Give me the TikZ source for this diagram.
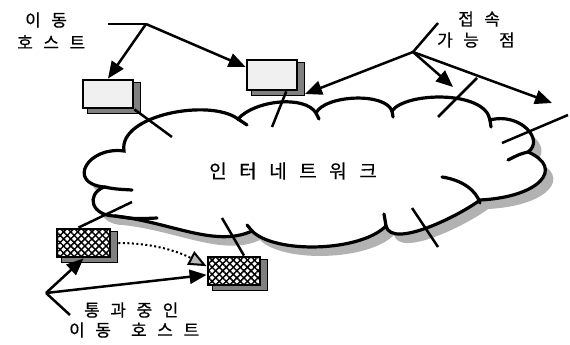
\documentclass[tikz,border=0pt]{standalone}
\usepackage{fontspec}
\newfontfamily\kr[LetterSpace=62,WordSpace=1.4,FakeBold=0.5]{Noto Sans CJK KR}
\newfontfamily\krbig[LetterSpace=66,FakeBold=0.5]{Noto Sans CJK KR}
\usetikzlibrary{arrows.meta,backgrounds,patterns.meta}
\newcommand\cloudoutline{(124,151) .. controls (118,115) and (210,98) .. (238,119)
 .. controls (255,100) and (305,95) .. (316,113)
 .. controls (325,95) and (385,92) .. (392,111)
 .. controls (405,92) and (485,90) .. (490,120)
 .. controls (520,112) and (545,140) .. (528,152)
 .. controls (565,168) and (540,197) .. (480,200)
 .. controls (462,214) and (392,250) .. (386,226)
 .. controls (360,252) and (275,254) .. (252,231)
 .. controls (215,248) and (170,222) .. (115,216)
 .. controls (92,216) and (85,195) .. (104,187)
 .. controls (66,183) and (88,146) .. (124,151) -- cycle}
\begin{document}
\begin{tikzpicture}[x=1pt,y=-1pt,
  lbl/.style={font=\kr\fontsize{17}{21}\selectfont, anchor=west, inner sep=0pt},
  arr/.style={line width=2.5pt, -{Triangle[length=17pt,width=14pt]}},
  conn/.style={line width=2.5pt},
  cloudline/.style={line width=3.2pt, line cap=round},
  hostbase/.style={draw, line width=2.8pt, minimum width=50pt, minimum height=28pt, inner sep=0pt},
  lighthost/.style={hostbase, fill=gray!12},
  transithost/.style={hostbase, fill=white,
    postaction={pattern={Lines[angle=45,distance=5pt,line width=1.5pt]}},
    postaction={pattern={Lines[angle=-45,distance=5pt,line width=1.5pt]}}},
  boxshadow/.style={fill=black!50, draw=black, line width=0.8pt},
]
\useasboundingbox (0,0) rectangle (570,345);
% cloud shadow and cloud
\fill[gray!60, shift={(8,9)}] \cloudoutline;
\draw[cloudline, fill=white] \cloudoutline;
% cloud tails
\draw[cloudline] (238,119) -- (247,125);
\draw[cloudline] (316,113) -- (319,119);
\draw[cloudline] (392,111) -- (393,117);
\draw[cloudline] (490,120) -- (491,127);
\draw[cloudline] (528,152) .. controls (520,154) .. (508,160);
\draw[cloudline] (386,226) -- (384,214);
\draw[cloudline] (252,231) -- (247,225);
\draw[cloudline] (115,216) .. controls (135,219) .. (157,218);
\draw[cloudline] (104,187) .. controls (115,189) .. (132,190);
\draw[cloudline] (442,177) .. controls (462,180) and (476,190) .. (480,203);
% network label
\node[font=\krbig\fontsize{19}{22}\selectfont, anchor=west, inner sep=0pt] (net) at (209,171) {인터네트워크};
% hosts
\node[lighthost] (h1) at (108,94) {};
\node[lighthost, minimum height=30pt] (h2) at (272,75) {};
\node[transithost, minimum width=53pt] (h3) at (83.5,243) {};
\node[transithost, minimum width=52pt] (h4) at (234,271) {};
\begin{scope}[on background layer]
  \foreach \h in {h1,h2,h3,h4}
    \path[boxshadow] ([shift={(6,4)}]\h.north west) rectangle ([shift={(6,4)}]\h.south east);
\end{scope}
% coordinates
\coordinate (mhs) at (108,24); \coordinate (mhp) at (146,24);
\coordinate (aps) at (438,23); \coordinate (app) at (413,52);
\coordinate (ap1) at (305,94); \coordinate (ap2) at (453,87); \coordinate (ap3) at (552,103);
\coordinate (tps) at (70,315); \coordinate (tpp) at (46,293);
\coordinate (l1) at (172,137); \coordinate (l2) at (272,127);
\coordinate (l3a) at (477,78); \coordinate (l3b) at (438,117);
\coordinate (l4a) at (568,115); \coordinate (l4b) at (502,143);
\coordinate (l6a) at (412,208); \coordinate (l6b) at (438,247);
\coordinate (l7) at (222,218); \coordinate (l8) at (132,202);
% link lines
\draw[conn] (h1.south east) -- (l1);
\draw[conn] (h2.-49) -- (l2);
\draw[conn] (l3a) -- (l3b);
\draw[conn] (l4a) -- (l4b);
\draw[conn] (l6a) -- (l6b);
\draw[conn] (l7) -- (h4.57);
\draw[conn] (l8) -- (h3.108);
% labels
\node[lbl] (mhl1) at (25,20) {이동};
\node[lbl] (mhl2) at (17,42) {호스트};
\node[lbl] (apl1) at (458,19) {접속};
\node[lbl] (apl2) at (437,40) {가능 점};
\node[lbl] (tpl1) at (84,310) {통과중인};
\node[lbl] (tpl2) at (69,330) {이동 호스트};
% label connectors
\draw[conn] (mhs) -- (mhp);
\draw[arr] (mhp) -- (h1.north);
\draw[arr] (mhp) -- (h2.163);
\draw[conn] (aps) -- (app);
\draw[arr] (app) -- (ap1);
\draw[arr] (app) -- (ap2);
\draw[arr] (app) -- (ap3);
\draw[conn] (tps) -- (tpp);
\draw[arr] (tpp) -- (h3.south);
\draw[arr] (tpp) -- (h4.188);
% moving path
\draw[line width=2pt, dash pattern=on 2pt off 2.5pt, shorten <=7pt,
  -{Triangle[length=18pt,width=15pt,fill=gray!55]}]
  (h3.east) .. controls (160,243) and (185,255) .. (h4.170);
\end{tikzpicture}
\end{document}
